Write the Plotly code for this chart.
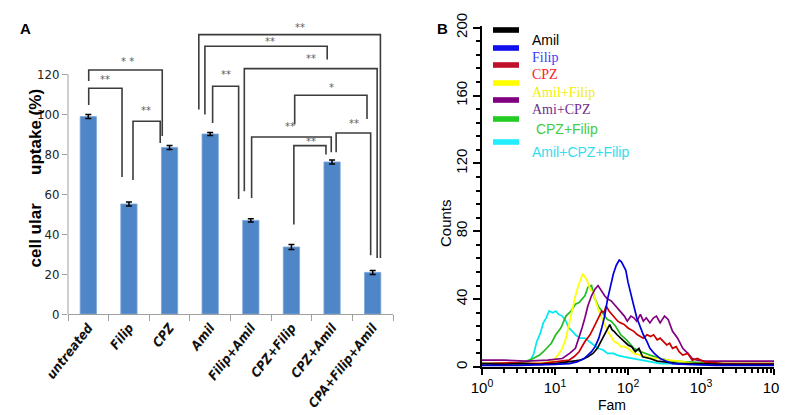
import plotly.graph_objects as go

W, H = 787, 415

# ---- panel A data ----
groups = ["untreated", "Filip", "CPZ", "Amil", "Filip+Amil", "CPZ+Filip", "CPZ+Amil", "CPA+Filip+Amil"]
uptake = [98.7, 55.0, 83.3, 90.0, 46.8, 33.5, 76.0, 20.8]
uptake_err = [1.0, 1.0, 1.0, 0.8, 0.8, 1.2, 1.0, 1.0]
yticks_a = [0, 20, 40, 60, 80, 100, 120]

# significance brackets: x left, x right, line y, left foot, right foot, label, label x, label y
brackets = [
    (0.01, 1.82, 122.0, 116.5, 89.0, "* *", 0.97, 126.5),
    (0.01, 0.83, 112.9, 104.5, 68.5, "**", 0.41, 117.5),
    (1.10, 1.77, 96.4, 67.0, 85.5, "**", 1.42, 102.0),
    (2.72, 7.19, 139.7, 102.2, 28.0, "**", 5.22, 143.5),
    (2.87, 5.88, 133.9, 99.7, 127.2, "**", 4.46, 136.5),
    (3.84, 7.11, 122.7, 61.4, 28.0, "**", 5.48, 128.0),
    (3.06, 3.70, 113.9, 95.5, 57.5, "**", 3.38, 119.7),
    (5.08, 6.86, 109.4, 94.7, 97.5, "*", 5.99, 113.5),
    (4.02, 5.98, 88.5, 58.0, 80.9, "**", 4.97, 93.9),
    (6.10, 6.95, 90.5, 80.9, 29.4, "**", 6.53, 95.5),
    (5.06, 5.85, 84.2, 44.7, 79.7, "**", 5.47, 86.5),
]

# ---- panel B data (log10 Fam, counts) ----
amil_x = [0, 0.3, 0.5, 0.8, 1.0, 1.2, 1.35, 1.45, 1.52, 1.58, 1.63, 1.68, 1.72, 1.75, 1.78, 1.81, 1.85, 1.9,
          1.95, 2.0, 2.05, 2.1, 2.15, 2.2, 2.3, 2.4, 2.5, 2.7, 3.0, 3.3, 3.6, 4.0]
amil_y = [2, 1.5, 2, 1.5, 2, 3, 4, 6, 8, 11, 15, 19, 23, 25, 22, 21, 19, 17,
          15, 13, 12, 9, 11, 6, 5, 3.5, 3, 2, 2, 1.5, 1.5, 1.5]

filip_x = [0, 0.5, 1.0, 1.2, 1.3, 1.4, 1.45, 1.5, 1.55, 1.6, 1.64, 1.68, 1.72, 1.76, 1.8, 1.84, 1.88, 1.91,
           1.94, 1.97, 2.0, 2.04, 2.08, 2.12, 2.16, 2.21, 2.26, 2.3, 2.36, 2.44, 2.52, 2.61, 2.8, 3.2, 3.6, 4.0]
filip_y = [1, 1, 1.5, 2, 3, 5, 7, 9, 12, 17, 23, 30, 40, 47, 55, 60, 63, 62,
           59, 57, 50, 42, 36, 29, 24, 19, 15, 11, 8, 5, 3.5, 2, 1.5, 1, 1, 1]

cpz_x = [0, 0.4, 0.8, 1.0, 1.1, 1.19, 1.26, 1.33, 1.41, 1.48, 1.55, 1.6, 1.64, 1.67, 1.7, 1.74, 1.78, 1.81,
         1.86, 1.9, 1.95, 2.0, 2.04, 2.08, 2.13, 2.17, 2.21, 2.26, 2.31, 2.35, 2.4, 2.44, 2.48, 2.53, 2.57,
         2.61, 2.66, 2.7, 2.75, 2.82, 2.88, 2.95, 3.05, 3.3, 3.6, 4.0]
cpz_y = [2, 2.5, 2, 3, 3.5, 4, 6, 9, 15, 19, 25, 29, 33, 32, 36, 33, 31, 30,
         27, 26, 25, 23, 22, 21, 19, 18, 17, 19, 18, 19, 16, 17, 15, 13, 14,
         11, 12, 9, 7, 8, 4, 5, 3, 2, 2, 2]

amil_filip_x = [0, 0.4, 0.7, 0.85, 0.97, 1.04, 1.1, 1.15, 1.19, 1.23, 1.28, 1.32, 1.35, 1.38, 1.41, 1.44,
                1.48, 1.52, 1.55, 1.6, 1.64, 1.68, 1.72, 1.77, 1.81, 1.86, 1.9, 1.95, 2.0, 2.08, 2.17, 2.25,
                2.35, 2.44, 2.55, 2.71, 2.9, 3.1, 3.5, 4.0]
amil_filip_y = [2, 2, 2, 2.5, 3.5, 7, 11, 17, 25, 33, 42, 48, 52, 55, 53, 51,
                46, 44, 40, 33, 29, 25, 21, 18, 15, 14, 12, 12, 11, 8, 7, 6,
                5, 5, 4, 3.5, 2, 2, 2, 2]

ami_cpz_x = [0, 0.3, 0.6, 0.9, 1.1, 1.2, 1.28, 1.33, 1.37, 1.41, 1.45, 1.5, 1.55, 1.59, 1.63, 1.68, 1.72,
             1.77, 1.81, 1.85, 1.9, 1.95, 1.99, 2.04, 2.08, 2.12, 2.17, 2.21, 2.25, 2.3, 2.35, 2.39, 2.44,
             2.5, 2.55, 2.61, 2.68, 2.75, 2.82, 2.88, 2.95, 3.06, 3.3, 3.6, 4.0]
ami_cpz_y = [4, 4, 3.5, 4, 5, 8, 11, 17, 23, 29, 36, 42, 46, 48, 45, 42, 40,
             39, 37, 35, 33, 30, 27, 30, 29, 27, 31, 27, 29, 26, 29, 30, 26,
             30, 28, 21, 17, 11, 8, 5, 4, 3.5, 3.5, 3.5, 3.5]

cpz_filip_x = [0, 0.3, 0.5, 0.61, 0.7, 0.79, 0.84, 0.88, 0.95, 1.01, 1.08, 1.15, 1.22, 1.28, 1.33, 1.37,
               1.41, 1.45, 1.5, 1.54, 1.59, 1.64, 1.68, 1.72, 1.77, 1.83, 1.9, 1.98, 2.08, 2.18, 2.3, 2.45,
               2.61, 2.8, 3.0, 3.3, 3.6, 4.0]
cpz_filip_y = [2, 2, 2.5, 3.5, 5, 7, 9, 11, 14, 19, 23, 30, 33, 37, 38, 40,
               42, 47, 48, 41, 36, 33, 30, 28, 27, 24, 19, 16, 11, 9, 7, 5,
               3.5, 3, 2.5, 2, 2, 2]

all3_x = [0, 0.3, 0.5, 0.6, 0.66, 0.71, 0.75, 0.8, 0.84, 0.88, 0.92, 0.97, 1.01, 1.05, 1.1, 1.15, 1.19,
          1.24, 1.28, 1.34, 1.41, 1.5, 1.59, 1.66, 1.72, 1.8, 1.85, 1.95, 2.08, 2.2, 2.3, 2.44, 2.7, 3.0,
          3.5, 4.0]
all3_y = [2, 2, 2, 2.5, 3.5, 8, 15, 20, 26, 29, 33, 32, 33, 31, 30, 27, 23,
          21, 19, 17, 17, 14, 11, 10, 8, 8, 7, 6, 5, 4, 3.5, 2, 2, 1.5,
          1.5, 1.5]

series_b = [
    ("Amil+CPZ+Filip", all3_x, all3_y, "#00e8f0"),
    ("CPZ+Filip", cpz_filip_x, cpz_filip_y, "#22bb22"),
    ("Amil+Filip", amil_filip_x, amil_filip_y, "#ffff00"),
    ("Ami+CPZ", ami_cpz_x, ami_cpz_y, "#800080"),
    ("CPZ", cpz_x, cpz_y, "#cc0000"),
    ("Amil", amil_x, amil_y, "#000000"),
    ("Filip", filip_x, filip_y, "#0000dd"),
]

# legend rows of panel B: label, swatch color, text color, font
legend_b = [
    ("Amil", "#000000", "#000000", "Arial"),
    ("Filip", "#1010ee", "#3a3aff", "Liberation Serif"),
    ("CPZ", "#c0102a", "#ff2020", "Liberation Serif"),
    ("Amil+Filip", "#ffff00", "#f0f000", "Liberation Serif"),
    ("Ami+CPZ", "#800080", "#703090", "Liberation Serif"),
    (" CPZ+Filip", "#22cc22", "#44cc44", "Arial"),
    ("Amil+CPZ+Filip", "#22eeff", "#33ddee", "Arial"),
]
legend_rows_y = [22, 40, 57, 75, 92, 111, 134]


def px(x):
    return x / W


def py(y):
    return 1 - y / H


fig = go.Figure()

fig.add_trace(go.Bar(
    x=list(range(len(groups))), y=uptake,
    marker=dict(color="#4f86c8", line=dict(color="#7aa4d8", width=0.8)),
    error_y=dict(type="data", array=uptake_err, color="black", thickness=1.5, width=3),
    xaxis="x", yaxis="y", showlegend=False,
))

for name, xs, ys, col in series_b:
    fig.add_trace(go.Scatter(
        x=[10 ** v for v in xs], y=ys, mode="lines", name=name,
        line=dict(color=col, width=1.7), xaxis="x2", yaxis="y2", showlegend=False,
    ))

a_y0, a_y1 = py(306), py(6)
a_range = [0, 150]
narrow = "Liberation Sans Narrow, DejaVu Sans Condensed, Arial"

fig.update_layout(
    width=W, height=H, autosize=False,
    margin=dict(l=0, r=0, t=0, b=0),
    paper_bgcolor="white", plot_bgcolor="white",
    bargap=0.6,
    xaxis=dict(
        domain=[px(60), px(385)], range=[-0.5, 7.5], anchor="y", automargin=False,
        tickvals=list(range(len(groups))),
        ticktext=["<b><i>%s</i></b>" % g for g in groups],
        tickangle=-52, ticks="", showgrid=False, zeroline=False,
        showline=True, linecolor="#a0a0a0", linewidth=1,
        tickfont=dict(family=narrow, size=13, color="#111"),
        minor=dict(tick0=-0.5, dtick=1, ticks="outside", ticklen=6, tickcolor="#a0a0a0", showgrid=False),
    ),
    yaxis=dict(
        domain=[a_y0, a_y1], range=a_range, anchor="x", automargin=False,
        tickvals=yticks_a, ticks="outside", ticklen=5, tickcolor="#a0a0a0",
        showline=False, showgrid=False, zeroline=False,
        tickfont=dict(family=narrow, size=13, color="#222"),
    ),
    xaxis2=dict(
        domain=[px(474), px(766)], type="log", range=[0, 4], anchor="y2", automargin=False,
        tickvals=[1, 10, 100, 1000, 10000],
        ticktext=["10<sup>%d</sup>" % k for k in range(5)],
        ticks="outside", ticklen=6, tickwidth=1.5, tickcolor="black",
        showline=True, linecolor="black", linewidth=2, showgrid=False, zeroline=False,
        tickfont=dict(family="Arial", size=15, color="black"),
        minor=dict(tickvals=[k * 10 ** d for d in range(4) for k in range(2, 10)],
                   ticks="outside", ticklen=4, tickwidth=1.5, tickcolor="black", showgrid=False),
    ),
    yaxis2=dict(
        domain=[py(359), py(18)], range=[0, 201], anchor="x2", automargin=False,
        tickvals=[0, 40, 80, 120, 160, 200], tickangle=-90,
        ticks="outside", ticklen=7, tickwidth=1.5, tickcolor="black",
        showline=True, linecolor="black", linewidth=2, showgrid=False, zeroline=False,
        tickfont=dict(family="Arial", size=15, color="black"),
        minor=dict(dtick=8, ticks="outside", ticklen=4, tickwidth=1.5, tickcolor="black", showgrid=False),
    ),
)

shapes = []
annots = []

# y axis line of panel A ends at 120
shapes.append(dict(type="line", xref="paper", yref="paper",
                   x0=px(60), x1=px(60), y0=a_y0,
                   y1=a_y0 + (a_y1 - a_y0) * 120 / a_range[1],
                   line=dict(color="#a0a0a0", width=1)))

for x1, x2, yh, yl, yr, lab, lx, ly in brackets:
    shapes.append(dict(type="path", xref="x", yref="y",
                       path="M %g,%g L %g,%g L %g,%g L %g,%g" % (x1, yl, x1, yh, x2, yh, x2, yr),
                       line=dict(color="#3c3c3c", width=1.6)))
    annots.append(dict(x=lx, y=ly, xref="x", yref="y", text=lab, showarrow=False,
                       font=dict(family="DejaVu Sans", size=10, color="#606060")))

annots.append(dict(x=px(15), y=py(170), xref="paper", yref="paper", textangle=-90, showarrow=False,
                   text="<b>cell ular" + "\u00a0" * 6 + "uptake (%)</b>",
                   font=dict(family="Arial", size=17, color="black")))
annots.append(dict(x=px(10), y=py(10), xref="paper", yref="paper", showarrow=False,
                   text="<b>A</b>", font=dict(family="Arial", size=15, color="black")))
annots.append(dict(x=px(434), y=py(10), xref="paper", yref="paper", showarrow=False,
                   text="<b>B</b>", font=dict(family="Arial", size=15, color="black")))
annots.append(dict(x=px(437), y=py(215), xref="paper", yref="paper", textangle=-90, showarrow=False,
                   text="Counts", font=dict(family="Arial", size=15, color="black")))
annots.append(dict(x=px(620), y=py(407), xref="paper", yref="paper", showarrow=False,
                   text="Fam", font=dict(family="Arial", size=14, color="black")))

for (lab, sw, tc, fam), ry in zip(legend_b, legend_rows_y):
    shapes.append(dict(type="rect", xref="paper", yref="paper",
                       x0=px(485), x1=px(511), y0=py(ry + 2.8), y1=py(ry - 2.8),
                       fillcolor=sw, line=dict(width=0)))
    annots.append(dict(x=px(522), y=py(ry), xref="paper", yref="paper", showarrow=False,
                       xanchor="left", text=lab.replace(" ", "\u00a0"),
                       font=dict(family=fam, size=14, color=tc)))

fig.update_layout(shapes=shapes, annotations=annots)

fig.write_html("out.html")
